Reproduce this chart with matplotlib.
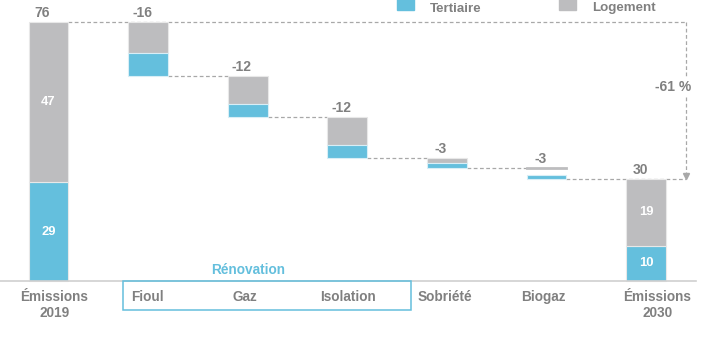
import matplotlib
matplotlib.use("Agg")
import matplotlib.pyplot as plt
from matplotlib import font_manager
from matplotlib.patches import Rectangle

# ---------------- data ----------------
categories = ["Émissions\n2019", "Fioul", "Gaz", "Isolation", "Sobriété", "Biogaz", "Émissions\n2030"]
logement = [47, 9, 8, 8, 1.4, 2, 19.7]
tertiaire = [29, 7, 4, 4, 1.6, 1, 10.3]
total_labels = ["76", "-16", "-12", "-12", "-3", "-3", "30"]
logement_labels = ["47", "", "", "", "", "", "19"]
tertiaire_labels = ["29", "", "", "", "", "", "10"]
kinds = ["total", "delta", "delta", "delta", "delta", "delta", "total"]
group_label = "Rénovation"
group_members = ["Fioul", "Gaz", "Isolation"]
change_label = "-61 %"
legend_labels = ["Tertiaire", "Logement"]

# ---------------- style ----------------
names = {f.name for f in font_manager.fontManager.ttflist}
NARROW = "Liberation Sans Narrow" in names
FONT = "Liberation Sans Narrow" if NARROW else "Liberation Sans"
fs = 11 if NARROW else 9.4
plt.rcParams["font.family"] = [FONT, "DejaVu Sans"]
plt.rcParams["font.weight"] = "bold"

BLUE = "#64bfdd"
GREY = "#bdbdbf"
TXT = "#808080"
DASH = "#a8a8a8"

W, H = 724, 339
fig = plt.figure(figsize=(W / 100, H / 100), dpi=100)
ax = fig.add_axes([0, 0, 1, 1])
ax.set_xlim(-0.487, -0.487 + W / 99.6)
ax.set_ylim(-17.0, 82.4)
ax.axis("off")

ppu = 339 / 99.4  # pixels per unit (y)
def py(p):
    return p / ppu

bw = 0.40
level = 0
tops, bottoms = [], []
for i, (k, L, T) in enumerate(zip(kinds, logement, tertiaire)):
    if k == "total":
        bottom = 0
        top = T + L
        ax.bar(i, T, bw, bottom=0, color=BLUE, edgecolor="#e8e8e8", lw=0.8, zorder=3)
        ax.bar(i, L, bw, bottom=T, color=GREY, edgecolor="#e8e8e8", lw=0.8, zorder=3)
        level = top
    else:
        top = level
        bottom = level - L - T
        if categories[i] == "Biogaz":
            ax.bar(i, L, bw, bottom=top - L, color="white", edgecolor="none", zorder=3)
            ax.plot([i - bw / 2, i + bw / 2], [top, top], color=GREY, lw=2, zorder=4)
        else:
            ax.bar(i, L, bw, bottom=top - L, color=GREY, edgecolor="#e8e8e8", lw=0.8, zorder=3)
        ax.bar(i, T, bw, bottom=bottom, color=BLUE, edgecolor="#d8eef6", lw=0.8, zorder=3)
        level = bottom
    tops.append(top)
    bottoms.append(bottom)

# value labels above bars
for i, lab in enumerate(total_labels):
    ax.text(i - 0.06, tops[i] + py(5), lab, ha="center", va="baseline",
            color=TXT, fontsize=fs + 0.6, fontweight="bold", zorder=5)

# inside labels
for i in range(len(categories)):
    if tertiaire_labels[i]:
        ax.text(i, tertiaire[i] / 2, tertiaire_labels[i], ha="center", va="center",
                color="white", fontsize=fs, fontweight="bold", zorder=5)
    if logement_labels[i]:
        ax.text(i, tertiaire[i] + logement[i] / 2, logement_labels[i], ha="center", va="center",
                color="white", fontsize=fs, fontweight="bold", zorder=5)

# connectors
xr = 6.40
dash = dict(color=DASH, lw=0.9, ls=(0, (3, 2)), zorder=2)
ax.plot([0 + bw / 2, xr], [tops[0], tops[0]], **dash)
for i in range(1, len(categories) - 2):
    ax.plot([i + bw / 2, i + 1 - bw / 2], [bottoms[i], bottoms[i]], **dash)
ax.plot([len(categories) - 2 + bw / 2, xr], [tops[-1], tops[-1]], **dash)
ax.plot([xr, xr], [tops[0], tops[-1] + py(4)], **dash)
ax.plot([xr], [tops[-1] + py(3)], marker="v", ms=4, color=DASH, mec=DASH, zorder=2)
ax.text(xr - 0.125, 82.4 - py(87), change_label, ha="center", va="center", color=TXT,
        fontsize=fs + 0.6, fontweight="bold", zorder=4,
        bbox=dict(facecolor="white", edgecolor="none", pad=1.5))

# baseline
ax.plot([-0.487, 6.5], [0, 0], color="#d0d0d0", lw=1.2, zorder=4)

# category labels (each line placed on its own baseline)
nudges = [0.06, -0.01, -0.03, 0.005, -0.02, -0.03, 0.115]
for i, cat in enumerate(categories):
    for k, line in enumerate(cat.split("\n")):
        ax.text(i + nudges[i], -py(19.7 + 16 * k), line, ha="center", va="baseline",
                color=TXT, fontsize=fs + 0.4, fontweight="bold")

# Rénovation group box
gi = [categories.index(g) for g in group_members]
x0 = -0.487 + 123.3 / 99.6
x1 = -0.487 + 411 / 99.6
ax.add_patch(Rectangle((x0, -py(29)), x1 - x0, py(29), fill=False, edgecolor=BLUE, lw=1.1, zorder=4))
ax.text(sum(gi) / len(gi), py(7), group_label, ha="center", va="baseline", color=BLUE,
        fontsize=fs + 0.4, fontweight="bold")

# legend (top edge)
for (xs, col, lab) in [(397, BLUE, legend_labels[0]), (559, GREY, legend_labels[1])]:
    fig.patches.append(Rectangle((xs / W, 1 - 10 / H), 17 / W, 12 / H, transform=fig.transFigure,
                                 color=col, figure=fig))
    fig.text((xs + 33) / W, 1 - 11.5 / H, lab, ha="left", va="baseline", color=TXT,
             fontsize=fs + 0.2, fontweight="bold")

fig.savefig("out.png", dpi=100)
